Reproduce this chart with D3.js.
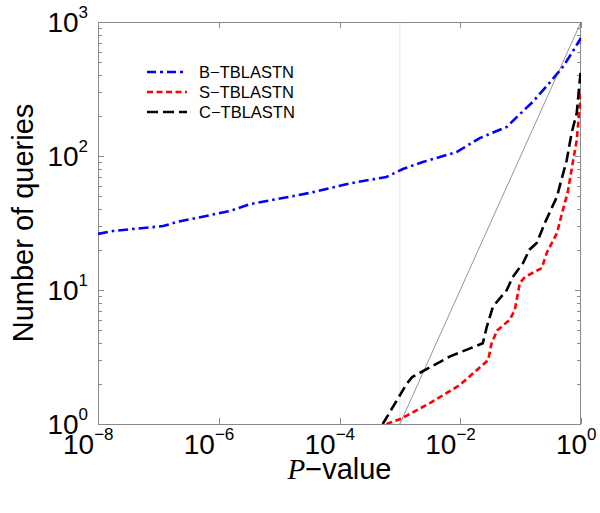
<!DOCTYPE html>
<html><head><meta charset="utf-8">
<script src="https://cdn.jsdelivr.net/npm/d3@7"></script>
<style>body{margin:0;background:#fff}svg{display:block}</style>
</head><body>
<script>
// ---- data ----
const seriesNames = ["B\u2212TBLASTN", "S\u2212TBLASTN", "C\u2212TBLASTN"];
const seriesColors = ["#0000ff", "#ff0000", "#000000"];
const bP = [1e-8,1.78e-8,1.2e-7,2.04e-7,1.55e-6,3.3e-6,1.15e-5,3.2e-5,1.15e-4,1.95e-4,6.0e-4,1.12e-3,2.4e-3,8.7e-3,0.021,0.059,0.087,0.158,0.30,0.50,0.72,1];
const bN = [26.2,27.6,30.0,32.2,38.9,43.8,48.6,53.0,60.8,64.0,69.7,80.0,90.2,107,136,165,196,253,351,462,597,760];
const sP = [6.0e-4,1.07e-3,3.2e-3,9.8e-3,0.029,0.033,0.041,0.066,0.080,0.097,0.118,0.224,0.27,0.40,0.50,0.60,0.73,0.85,0.93,1];
const sN = [1.0,1.1,1.44,1.95,3.0,4.0,5.0,6.0,7.1,11.3,12.5,14.6,18.9,26.6,39.5,53,89,131,209,300];
const cP = [5.2e-4,1.3e-3,1.6e-3,6.8e-3,0.0236,0.0275,0.0347,0.059,0.074,0.109,0.140,0.185,0.251,0.398,0.58,0.70,0.85,1];
const cN = [1.0,2.0,2.24,3.2,4.0,5.3,7.5,10,12.5,15.8,20,22.4,31.6,49.5,93,149,209,455];
const xTickExps = [-8,-6,-4,-2,0];
const yTickExps = [0,1,2,3];
const thresholdP = 1e-3;
const expectedRate = 1000; // diagonal: N = 1000 * p

const W = 600, H = 513;
const L = 98, R = 581, T = 22, B = 424;
const svg = d3.select("body").append("svg").attr("width", W).attr("height", H);
const x = d3.scaleLog().domain([1e-8, 1]).range([L, R]);
const y = d3.scaleLog().domain([1, 1000]).range([B, T]);

svg.append("defs").append("clipPath").attr("id","clip")
  .append("rect").attr("x",L).attr("y",T).attr("width",R-L).attr("height",B-T);

const axisCol = "#8a8a8a";
// threshold vertical line
svg.append("line").attr("x1",x(thresholdP)).attr("x2",x(thresholdP)).attr("y1",T).attr("y2",B)
  .attr("stroke","#e4e4e4").attr("stroke-width",1);

// ticks
const g = svg.append("g");
const yMinor = [];
for (let e = 0; e < 3; e++) for (let k = 1; k < 10; k++) yMinor.push(k * Math.pow(10, e));
yMinor.push(1000);
yMinor.forEach(v => {
  const major = Math.abs(Math.log10(v) - Math.round(Math.log10(v))) < 1e-9;
  const len = major ? 6 : 4;
  const yy = Math.round(y(v)) + 0.5;
  g.append("line").attr("x1",L).attr("x2",L+len).attr("y1",yy).attr("y2",yy).attr("stroke",axisCol);
  g.append("line").attr("x1",R).attr("x2",R-len).attr("y1",yy).attr("y2",yy).attr("stroke",axisCol);
});
xTickExps.forEach(e => {
  const xx = Math.round(x(Math.pow(10,e))) + 0.5;
  g.append("line").attr("x1",xx).attr("x2",xx).attr("y1",B).attr("y2",B-6).attr("stroke",axisCol);
  g.append("line").attr("x1",xx).attr("x2",xx).attr("y1",T).attr("y2",T+6).attr("stroke",axisCol);
});

// box
svg.append("rect").attr("x",L+0.5).attr("y",T+0.5).attr("width",R-L-1).attr("height",B-T)
  .attr("fill","none").attr("stroke",axisCol).attr("stroke-width",1);

// diagonal expected line
const plot = svg.append("g").attr("clip-path","url(#clip)");
plot.append("line")
  .attr("x1", x(1/expectedRate)).attr("y1", y(1))
  .attr("x2", x(1)).attr("y2", y(expectedRate))
  .attr("stroke","#7a7a7a").attr("stroke-width",0.8);

const line = d3.line().x(d => x(d[0])).y(d => y(d[1]));
const series = [
  {p: bP, n: bN, dash: "10,4,2.5,4"},
  {p: sP, n: sN, dash: "6,3.5"},
  {p: cP, n: cN, dash: "11,5"}
];
series.forEach((s, i) => {
  plot.append("path").datum(s.p.map((p, j) => [p, s.n[j]]))
    .attr("d", line).attr("fill","none").attr("stroke",seriesColors[i])
    .attr("stroke-width",2.6).attr("stroke-dasharray",s.dash);
});

// legend
const lg = svg.append("g");
series.forEach((s, i) => {
  const ly = 72 + i * 20;
  lg.append("line").attr("x1",147).attr("x2",187).attr("y1",ly).attr("y2",ly)
    .attr("stroke",seriesColors[i]).attr("stroke-width",2.6).attr("stroke-dasharray", i===0 ? "9,4,3,4" : s.dash);
  lg.append("text").attr("x",199).attr("y",ly+6).text(seriesNames[i])
    .attr("font-family","Liberation Sans, Arial, sans-serif").attr("font-size",16.5).attr("fill","#000");
});

// tick labels
const font = "Liberation Sans, Arial, sans-serif";
const fs = 28, sfs = 17;
function powLabel(parent, e) {
  const t = parent.append("text").attr("font-family",font).attr("font-size",fs).attr("fill","#000");
  t.append("tspan").text("10");
  t.append("tspan").attr("font-size",sfs).attr("dy",-14).text(e < 0 ? "\u2212" + (-e) : String(e));
  return t;
}
xTickExps.forEach(e => {
  const t = powLabel(svg, e);
  const nodes = t.selectAll("tspan").nodes();
  const sw = nodes[1].getComputedTextLength();
  const bw = nodes[0].getComputedTextLength();
  const xx = x(Math.pow(10,e));
  t.attr("x", xx - bw/2 - sw).attr("y", 454);
});
yTickExps.forEach(e => {
  const t = powLabel(svg, e);
  const tw = t.node().getComputedTextLength();
  t.attr("x", 88 - tw).attr("y", y(Math.pow(10,e)) + 10);
});

// axis titles
const xt = svg.append("text").attr("y", 479).attr("font-size",29).attr("fill","#000")
  .attr("font-family",font);
xt.append("tspan").attr("font-family","Liberation Serif, Times New Roman, serif").attr("font-style","italic").text("P");
xt.append("tspan").text("\u2212value");
const xw = xt.node().getComputedTextLength();
xt.attr("x", (L+R)/2 - xw/2);

svg.append("text").attr("transform",`translate(33,${(T+B)/2}) rotate(-90)`)
  .attr("text-anchor","middle").attr("font-family",font).attr("font-size",29).attr("fill","#000")
  .text("Number of queries");
</script>
</body></html>
